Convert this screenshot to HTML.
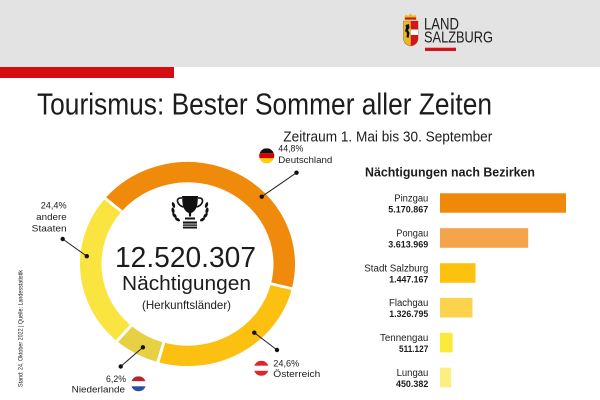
<!DOCTYPE html>
<html><head><meta charset="utf-8"><style>
html,body{margin:0;padding:0;background:#fff;}
svg{display:block;}
text{font-family:"Liberation Sans","DejaVu Sans",sans-serif;fill:#1c1c1c;}
</style></head><body>
<svg width="600" height="400" viewBox="0 0 600 400" xmlns="http://www.w3.org/2000/svg">
<defs>
<clipPath id="cde"><circle cx="266.7" cy="155.8" r="7.5"/></clipPath>
<clipPath id="cat"><circle cx="261.3" cy="368.3" r="7.5"/></clipPath>
<clipPath id="cnl"><circle cx="138.5" cy="383.8" r="7.5"/></clipPath>
</defs>
<!-- header -->
<rect x="0" y="0" width="600" height="67" fill="#E3E3E3"/>
<rect x="0" y="67" width="174" height="11" fill="#D40C14"/>
<!-- logo crest -->
<g>
<path d="M404.5 17 L406 14.5 L408 16 L410.5 13.5 L413 16 L415 14.5 L416.5 17 L416.5 20 L404.5 20 Z" fill="#E8B923"/>
<rect x="405" y="17.5" width="11" height="2" fill="#C8141C"/>
<path d="M403.5 21 L418 21 L418 38 Q418 44.5 410.75 46 Q403.5 44.5 403.5 38 Z" fill="#E8B923" stroke="#9a7a20" stroke-width="0.6"/>
<path d="M410.75 21 L418 21 L418 38 Q418 44.5 410.75 46 Z" fill="#D4141C"/>
<rect x="410.75" y="29.5" width="7.25" height="5.5" fill="#fff"/>
<path d="M405.5 25 L409 24 L409.5 28 L408 30 L409.5 33 L408.5 38 L406.5 37 L407 33 L405 31 L406 28 Z" fill="#111"/>
</g>
<text x="424" y="29.3" font-size="17" textLength="35" lengthAdjust="spacingAndGlyphs" fill="#2a2a2a">LAND</text>
<text x="424" y="42.7" font-size="15.5" textLength="69" lengthAdjust="spacingAndGlyphs" fill="#2a2a2a">SALZBURG</text>
<rect x="425" y="47.7" width="31" height="3.3" fill="#D3121A"/>
<!-- titles -->
<text x="37" y="114.5" font-size="31" textLength="455" lengthAdjust="spacingAndGlyphs">Tourismus: Bester Sommer aller Zeiten</text>
<text x="283.3" y="141.7" font-size="15" textLength="209" lengthAdjust="spacingAndGlyphs">Zeitraum 1. Mai bis 30. September</text>
<!-- side note -->
<text transform="translate(22.5,387) rotate(-90)" font-size="6" textLength="117" lengthAdjust="spacingAndGlyphs" fill="#b5b5b5">Stand: 24. Oktober 2022 | Quelle: Landesstatistik</text>
<!-- donut -->
<g transform="translate(187.5,264) scale(1,0.95)" fill="none" stroke-width="21.5">
<path d="M -74.11 -62.19 A 96.75 96.75 0 0 1 93.87 23.41" stroke="#F08A0A"/>
<path d="M 93.87 23.41 A 96.75 96.75 0 0 1 -26.67 93.00" stroke="#FCC010"/>
<path d="M -26.67 93.00 A 96.75 96.75 0 0 1 -63.47 73.02" stroke="#E8D045"/>
<path d="M -63.47 73.02 A 96.75 96.75 0 0 1 -74.11 -62.19" stroke="#FAE540"/>
<g stroke="#fff" stroke-width="3">
<line x1="-64.34" y1="-54.0" x2="-84.26" y2="-70.71"/>
<line x1="81.51" y1="20.32" x2="106.73" y2="26.61"/>
<line x1="-23.15" y1="80.75" x2="-30.32" y2="105.74"/>
<line x1="-55.11" y1="63.39" x2="-72.17" y2="83.02"/>
</g>
</g>
<!-- leader lines -->
<g stroke="#222" stroke-width="1" fill="#111">
<line x1="261.7" y1="196.7" x2="296.5" y2="172.7"/>
<circle cx="261.7" cy="196.7" r="2.2" stroke="none"/><circle cx="296.5" cy="172.7" r="2.2" stroke="none"/>
<line x1="62.7" y1="239" x2="86.8" y2="256.2"/>
<circle cx="62.7" cy="239" r="2.2" stroke="none"/><circle cx="86.8" cy="256.2" r="2.2" stroke="none"/>
<line x1="254.3" y1="332.7" x2="277" y2="350"/>
<circle cx="254.3" cy="332.7" r="2.2" stroke="none"/><circle cx="277" cy="350" r="2.2" stroke="none"/>
<line x1="142.9" y1="347.3" x2="120.7" y2="366.5"/>
<circle cx="142.9" cy="347.3" r="2.2" stroke="none"/><circle cx="120.7" cy="366.5" r="2.2" stroke="none"/>
</g>
<!-- flags -->
<g clip-path="url(#cde)">
<rect x="259" y="148.3" width="16" height="5" fill="#111"/>
<rect x="259" y="153.3" width="16" height="5" fill="#D50000"/>
<rect x="259" y="158.3" width="16" height="5.2" fill="#FFCE00"/>
</g>
<g clip-path="url(#cat)">
<rect x="253" y="360.8" width="16" height="5" fill="#E1252B"/>
<rect x="253" y="365.8" width="16" height="5" fill="#fff"/>
<rect x="253" y="370.8" width="16" height="5.2" fill="#E1252B"/>
</g>
<g clip-path="url(#cnl)">
<rect x="130" y="376.3" width="17" height="5" fill="#B5252D"/>
<rect x="130" y="381.3" width="17" height="5" fill="#fff"/>
<rect x="130" y="386.3" width="17" height="5.2" fill="#2A4F9E"/>
</g>
<!-- donut labels -->
<g font-size="9.5">
<text x="278.3" y="151.5" textLength="25" lengthAdjust="spacingAndGlyphs">44,8%</text>
<text x="278.3" y="163" textLength="54" lengthAdjust="spacingAndGlyphs">Deutschland</text>
<text x="66.7" y="208.3" text-anchor="end" textLength="26" lengthAdjust="spacingAndGlyphs">24,4%</text>
<text x="66.7" y="220" text-anchor="end" textLength="30.5" lengthAdjust="spacingAndGlyphs">andere</text>
<text x="66.7" y="231.5" text-anchor="end" textLength="35" lengthAdjust="spacingAndGlyphs">Staaten</text>
<text x="273.3" y="366.6" textLength="26" lengthAdjust="spacingAndGlyphs">24,6%</text>
<text x="273.3" y="377" textLength="47" lengthAdjust="spacingAndGlyphs">Österreich</text>
<text x="126" y="382" text-anchor="end" textLength="20" lengthAdjust="spacingAndGlyphs">6,2%</text>
<text x="125" y="392.5" text-anchor="end" textLength="53.3" lengthAdjust="spacingAndGlyphs">Niederlande</text>
</g>
<!-- trophy -->
<g fill="#111">
<path d="M182 196 L198 196 L197.5 203 Q196.5 211 191.2 213 L191 216.5 L189 216.5 L188.8 213 Q183.5 211 182.5 203 Z"/>
<path d="M182 198 Q177 197.5 177.5 201.5 Q178.5 205.5 183.5 207" fill="none" stroke="#111" stroke-width="1.6"/>
<path d="M198 198 Q203 197.5 202.5 201.5 Q201.5 205.5 196.5 207" fill="none" stroke="#111" stroke-width="1.6"/>
<rect x="185" y="217.5" width="10" height="2"/>
<rect x="183" y="221.5" width="14" height="7"/>
<rect x="183" y="223.6" width="14" height="0.8" fill="#fff"/>
<rect x="183" y="225.8" width="14" height="0.8" fill="#fff"/>
<!-- laurels -->
<ellipse cx="173.5" cy="205" rx="1.4" ry="3" transform="rotate(-20 173.5 205)"/>
<ellipse cx="173" cy="210.5" rx="1.5" ry="3" transform="rotate(-10 173 210.5)"/>
<ellipse cx="174.5" cy="215.5" rx="1.5" ry="3" transform="rotate(-40 174.5 215.5)"/>
<ellipse cx="177.5" cy="219.5" rx="1.4" ry="2.8" transform="rotate(-60 177.5 219.5)"/>
<ellipse cx="206.5" cy="205" rx="1.4" ry="3" transform="rotate(20 206.5 205)"/>
<ellipse cx="207" cy="210.5" rx="1.5" ry="3" transform="rotate(10 207 210.5)"/>
<ellipse cx="205.5" cy="215.5" rx="1.5" ry="3" transform="rotate(40 205.5 215.5)"/>
<ellipse cx="202.5" cy="219.5" rx="1.4" ry="2.8" transform="rotate(60 202.5 219.5)"/>
</g>
<!-- center text -->
<text x="115" y="267" font-size="28.5" textLength="141" lengthAdjust="spacingAndGlyphs">12.520.307</text>
<text x="122" y="290" font-size="20" textLength="129" lengthAdjust="spacingAndGlyphs">Nächtigungen</text>
<text x="142" y="309" font-size="12" textLength="89" lengthAdjust="spacingAndGlyphs">(Herkunftsländer)</text>
<!-- bar chart -->
<text x="365" y="176.7" font-size="13" font-weight="bold" textLength="170" lengthAdjust="spacingAndGlyphs" fill="#222">Nächtigungen nach Bezirken</text>
<rect x="440" y="193.3" width="126" height="19.4" fill="#F0880A"/>
<rect x="440" y="228.2" width="88.2" height="19.6" fill="#F4A44A"/>
<rect x="440" y="263.2" width="35.5" height="19.6" fill="#FDC20E"/>
<rect x="440" y="297.9" width="32.5" height="19.6" fill="#FDD24C"/>
<rect x="440" y="332.8" width="12.6" height="19.6" fill="#FBEA3A"/>
<rect x="440" y="367.7" width="11.2" height="19.6" fill="#FBEF80"/>
<g font-size="10" text-anchor="end">
<text x="428.3" y="201.6" textLength="34" lengthAdjust="spacingAndGlyphs">Pinzgau</text>
<text x="428.3" y="236.5" textLength="32" lengthAdjust="spacingAndGlyphs">Pongau</text>
<text x="428.3" y="271.4" textLength="64" lengthAdjust="spacingAndGlyphs">Stadt Salzburg</text>
<text x="428.3" y="306.2" textLength="39.3" lengthAdjust="spacingAndGlyphs">Flachgau</text>
<text x="428.3" y="341.1" textLength="48.3" lengthAdjust="spacingAndGlyphs">Tennengau</text>
<text x="428.3" y="376" textLength="31.7" lengthAdjust="spacingAndGlyphs">Lungau</text>
</g>
<g font-size="9" font-weight="bold" text-anchor="end">
<text x="428.3" y="212.6" textLength="40" lengthAdjust="spacingAndGlyphs">5.170.867</text>
<text x="428.3" y="247.5" textLength="40" lengthAdjust="spacingAndGlyphs">3.613.969</text>
<text x="428.3" y="282.4" textLength="39" lengthAdjust="spacingAndGlyphs">1.447.167</text>
<text x="428.3" y="317.2" textLength="39" lengthAdjust="spacingAndGlyphs">1.326.795</text>
<text x="428.3" y="352.1" textLength="29.3" lengthAdjust="spacingAndGlyphs">511.127</text>
<text x="428.3" y="387" textLength="32.3" lengthAdjust="spacingAndGlyphs">450.382</text>
</g>
</svg>
</body></html>
